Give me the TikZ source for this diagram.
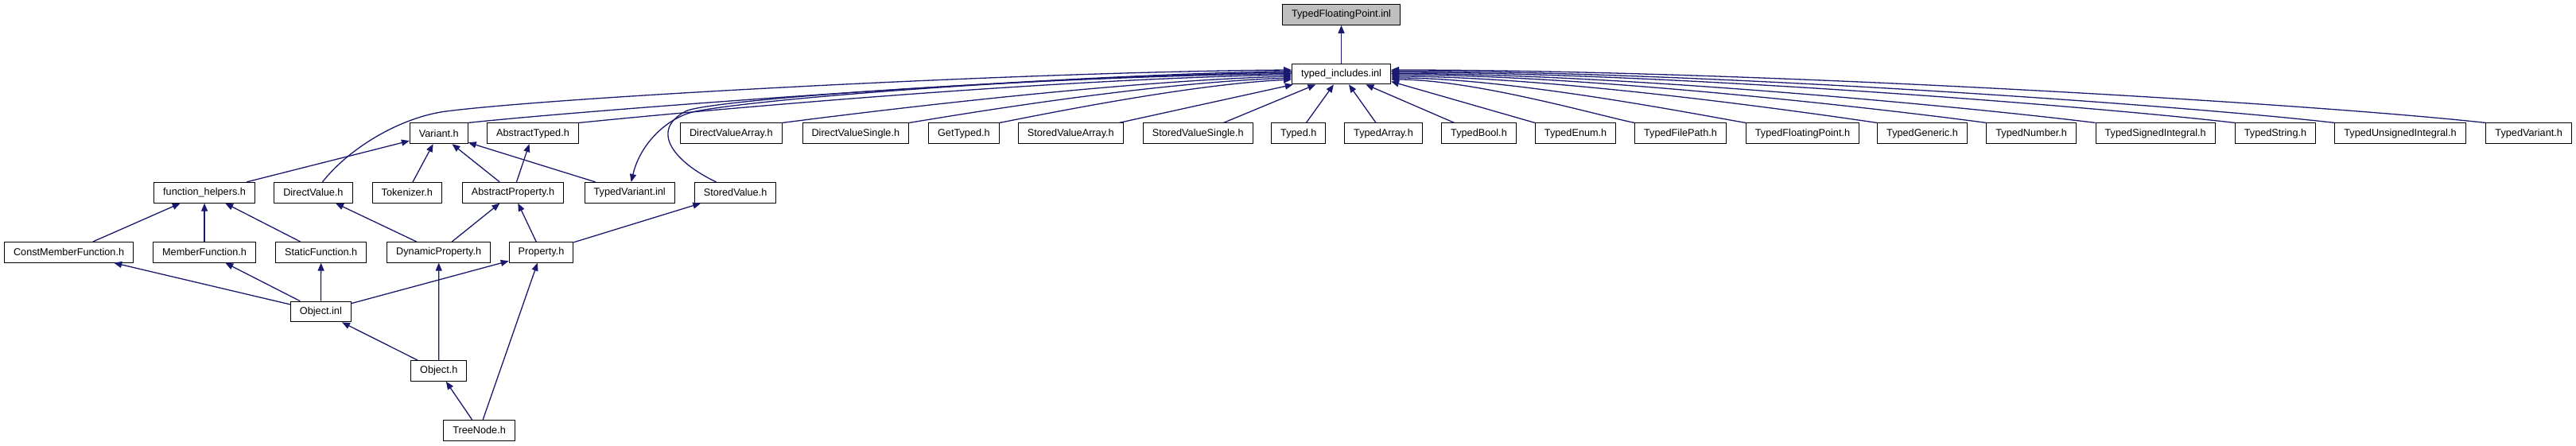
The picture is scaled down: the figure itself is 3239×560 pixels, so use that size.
\documentclass[tikz,border=0pt]{standalone}
\usepackage{fontspec}
\setmainfont{Liberation Sans}
\usetikzlibrary{arrows.meta}
\definecolor{depblue}{HTML}{191970}
\definecolor{selgray}{HTML}{BFBFBF}
\begin{document}
\begin{tikzpicture}[x=1pt,y=-1pt,
  filebox/.style={draw=black, line width=1pt, fill=white, font=\fontsize{12.7}{14}\selectfont,
    inner xsep=11.5pt, inner ysep=0pt, minimum height=25.7pt, anchor=center},
  dep/.style={draw=depblue, line width=1.3pt, -{Triangle[length=10pt,width=8pt]}}]
\useasboundingbox (0,0) rectangle (3239,560);
% top
\node[filebox, fill=selgray] (tfp) at (1686.5,18.5) {TypedFloatingPoint.inl};
\node[filebox] (ti) at (1686.5,93) {typed\_includes.inl};
% row 1
\node[filebox] (vh)   at (551.8,167.8)  {Variant.h};
\node[filebox] (at)   at (670.0,167.8)  {AbstractTyped.h};
\node[filebox] (dva)  at (919.4,167.8)  {DirectValueArray.h};
\node[filebox] (dvs)  at (1075.8,167.8) {DirectValueSingle.h};
\node[filebox] (gt)   at (1211.9,167.8) {GetTyped.h};
\node[filebox] (sva)  at (1346.3,167.8) {StoredValueArray.h};
\node[filebox] (svs)  at (1506.2,167.8) {StoredValueSingle.h};
\node[filebox] (typ)  at (1632.8,167.8) {Typed.h};
\node[filebox] (ta)   at (1739.5,167.8) {TypedArray.h};
\node[filebox] (tb)   at (1859.5,167.8) {TypedBool.h};
\node[filebox] (te)   at (1981.1,167.8) {TypedEnum.h};
\node[filebox] (tfph) at (2113.0,167.8) {TypedFilePath.h};
\node[filebox] (tfh)  at (2266.5,167.8) {TypedFloatingPoint.h};
\node[filebox] (tg)   at (2417.0,167.8) {TypedGeneric.h};
\node[filebox] (tn)   at (2554.2,167.8) {TypedNumber.h};
\node[filebox] (tsi)  at (2710.2,167.8) {TypedSignedIntegral.h};
\node[filebox] (ts)   at (2861.0,167.8) {TypedString.h};
\node[filebox] (tui)  at (3018.0,167.8) {TypedUnsignedIntegral.h};
\node[filebox] (tvh)  at (3179.7,167.8) {TypedVariant.h};
% row 2
\node[filebox] (fh)  at (257.1,242.3) {function\_helpers.h};
\node[filebox] (dv)  at (393.9,242.3) {DirectValue.h};
\node[filebox] (tok) at (511.8,242.3) {Tokenizer.h};
\node[filebox] (ap)  at (645.0,242.3) {AbstractProperty.h};
\node[filebox] (tvi) at (791.7,242.3) {TypedVariant.inl};
\node[filebox] (stv) at (924.6,242.3) {StoredValue.h};
% row 3
\node[filebox] (cmf) at (86.6,317.3)  {ConstMemberFunction.h};
\node[filebox] (mf)  at (257.1,317.3) {MemberFunction.h};
\node[filebox] (sf)  at (403.7,317.3) {StaticFunction.h};
\node[filebox] (dp)  at (551.7,317.3) {DynamicProperty.h};
\node[filebox] (pr)  at (680.5,317.3) {Property.h};
% lower
\node[filebox] (oi)  at (403.4,392)   {Object.inl};
\node[filebox] (oh)  at (551.8,466.5) {Object.h};
\node[filebox] (trn) at (602.6,541.2) {TreeNode.h};

% edges to top
\draw[dep] (ti) -- (tfp);
% left side into typed_includes
\draw[dep] ([xshift=11.5pt]dv.north) .. controls (440,185) and (505,147.2) .. (561,140)
   .. controls (700,122) and (1300,90) .. ([yshift=5pt]ti.west);
\draw[dep] (vh.north east) .. controls (700,142) and (1300,95) .. ([yshift=3.5pt]ti.west);
\draw[dep] ([yshift=2pt]ti.west) .. controls (1300,96) and (950,125) .. (875,140)
   .. controls (840,147) and (805,180) .. ([xshift=2pt]tvi.north);
\draw[dep] ([xshift=-24pt]stv.north) .. controls (850,205) and (815,165) .. (862,140)
   .. controls (890,125) and (1300,97) .. ([yshift=0.5pt]ti.west);
\draw[dep] (at.north east) .. controls (850,142) and (1300,100) .. ([yshift=-1pt]ti.west);
\draw[dep] (dva.north east) .. controls (1080,142) and (1400,102) .. ([yshift=-3pt]ti.west);
\draw[dep] (dvs.north east) .. controls (1230,140) and (1450,104) .. ([yshift=-5pt]ti.west);
\draw[dep] (gt.north east) .. controls (1330,140) and (1500,106) .. ([yshift=-7pt]ti.west);
\draw[dep] (sva) -- (ti);
\draw[dep] (svs) -- (ti);
\draw[dep] (typ) -- (ti);
% right side into typed_includes
\draw[dep] (ta) -- (ti);
\draw[dep] (tb) -- (ti);
\draw[dep] (te.north west) -- ([yshift=-9.5pt]ti.east);
\draw[dep] (tfph.north west) .. controls (2013,146) and (1853,100) .. ([yshift=-7pt]ti.east);
\draw[dep] (tfh.north west) .. controls (2129,143) and (1898,98) .. ([yshift=-5pt]ti.east);
\draw[dep] (tg.north west) .. controls (2269,141) and (1953,96) .. ([yshift=-3pt]ti.east);
\draw[dep] (tn.north west) .. controls (2384,139) and (1998,94) .. ([yshift=-1pt]ti.east);
\draw[dep] (tsi.north west) .. controls (2496,137) and (2042,92.5) .. ([yshift=0.5pt]ti.east);
\draw[dep] (ts.north west) .. controls (2644,135) and (2101,91) .. ([yshift=2pt]ti.east);
\draw[dep] (tui.north west) .. controls (2751,133) and (2143,89.5) .. ([yshift=3.5pt]ti.east);
\draw[dep] (tvh.north west) .. controls (2904,130) and (2203,88) .. ([yshift=5pt]ti.east);
% lower edges
\draw[dep] (fh) -- (vh);
\draw[dep] (tok) -- (vh);
\draw[dep] (ap) -- (vh);
\draw[dep] (tvi) -- (vh);
\draw[dep] (ap) -- (at);
\draw[dep] (cmf) -- (fh);
\draw[dep] (mf) -- (fh);
\draw[dep] (sf) -- (fh);
\draw[dep] (dp) -- (dv);
\draw[dep] (dp) -- (ap);
\draw[dep] (pr) -- (ap);
\draw[dep] (pr) -- (stv);
\draw[dep] (oi) -- (cmf);
\draw[dep] (oi) -- (mf);
\draw[dep] (oi) -- (sf);
\draw[dep] (oi) -- (pr);
\draw[dep] (oh) -- (oi);
\draw[dep] (oh) -- (dp);
\draw[dep] (trn) -- (oh);
\draw[dep] (trn) -- (pr);
\end{tikzpicture}
\end{document}
